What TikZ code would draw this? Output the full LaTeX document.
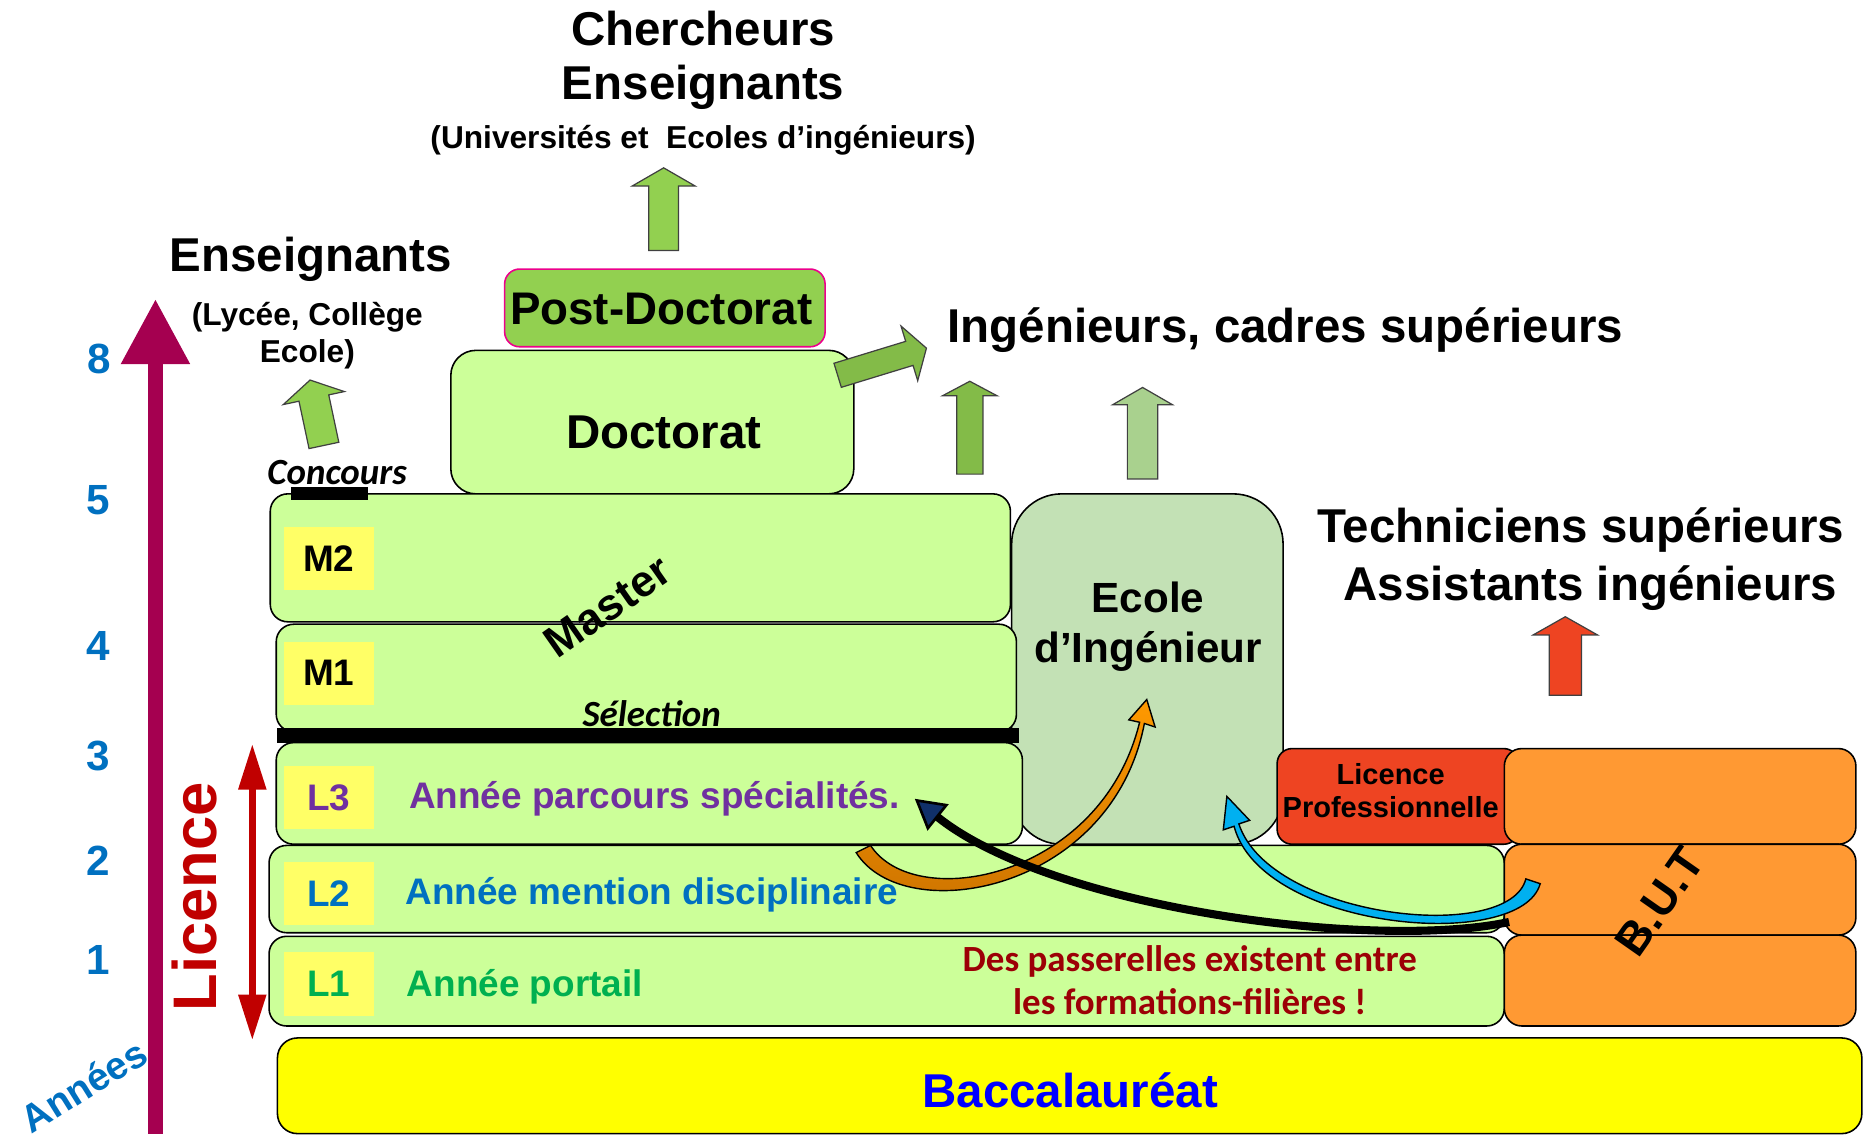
\documentclass[tikz,border=0pt]{standalone}
\usepackage{fontspec}
\setmainfont{Liberation Sans}
\newfontfamily\calfont{Carlito}
\usetikzlibrary{positioning, fit, shapes.arrows, arrows.meta}

\definecolor{lgreen}{HTML}{CCFF99}
\definecolor{pgreen}{HTML}{92D050}
\definecolor{egreen}{HTML}{C3E1B5}
\definecolor{agreen}{HTML}{A9D18E}
\definecolor{lpred}{HTML}{EE4422}
\definecolor{butorange}{HTML}{FF9933}
\definecolor{tagyellow}{HTML}{FFFF66}
\definecolor{bacyellow}{HTML}{FFFF00}
\definecolor{yearpurple}{HTML}{A50050}
\definecolor{licred}{HTML}{C00000}
\definecolor{numblue}{HTML}{0070C0}
\definecolor{l3purple}{HTML}{7030A0}
\definecolor{l1green}{HTML}{00B050}
\definecolor{passred}{HTML}{9C0006}
\definecolor{navy}{HTML}{10306A}
\definecolor{bluearrow}{HTML}{00B0F0}
\definecolor{orangetip}{HTML}{FF9900}
\definecolor{orangetail}{HTML}{C87000}

\newcommand{\setfs}[1]{\fontsize{#1}{1.2\dimexpr#1pt\relax}\selectfont}

\tikzset{
  level/.style={draw=black, line width=0.9pt, fill=lgreen, rounded corners=3.5mm, inner sep=0pt},
  tag/.style={fill=tagyellow, minimum width=51pt, minimum height=36pt, inner sep=0pt, font=\bfseries\setfs{21}},
  num/.style={text=numblue, font=\bfseries\setfs{24}},
  blockarrow/.style={single arrow, draw=black!75, line width=0.7pt, inner xsep=0pt,
    single arrow head indent=0pt, anchor=tail}
}

\begin{document}
\begin{tikzpicture}[x=0.239mm, y=-0.239mm]
  \useasboundingbox (0,0) rectangle (1568,951);

  % annees
  \coordinate (yearsBot) at (130,948);
  \coordinate (yearsTop) at (130,250);
  \draw[
    line width=8.2pt,
    color=yearpurple,
    -{Triangle[width=37pt,length=37pt]}
  ] (yearsBot) -- (yearsTop);
  \node[rotate=32, text=numblue, font=\bfseries\setfs{22}] (annees) at (70,908) {Années};

  \node[num] (year8) at (83,300) {8};
  \node[num] (year5) at (82,418) {5};
  \node[num] (year4) at (82,540) {4};
  \node[num] (year3) at (82,632) {3};
  \node[num] (year2) at (82,720) {2};
  \node[num] (year1) at (82,803) {1};

  % licence
  \node[rotate=90, text=licred, font=\bfseries\setfs{35}] (licence) at (163,750) {Licence};
  \coordinate (licTop) at (211,622);
  \coordinate (licBot) at (211,870);
  \draw[
    line width=4pt,
    color=licred,
    {Triangle[width=15pt,length=26pt]}-{Triangle[width=15pt,length=26pt]}
  ] (licTop) -- (licBot);

  % boxes
  \node[level, fill=egreen, rounded corners=10mm, fit={(846,413) (1073,706)}] (ecole) {};
  \node[align=center, font=\bfseries\fontsize{24}{28.5}\selectfont] (ecoleText) at (960,524) {Ecole\\d’Ingénieur};

  \node[level, rounded corners=5mm, fit={(377,293) (714,413)}] (doc) {};
  \node[font=\bfseries\setfs{27}] (docText) at (555,362) {Doctorat};
  \node[level, draw=magenta, fill=pgreen, rounded corners=3mm, fit={(422,225) (690,290)}] (postdoc) {};
  \node[font=\bfseries\setfs{26}] (postdocText) at (553,258) {Post-Doctorat};

  \node[level, fit={(226,413) (845,520)}] (m2) {};
  \node[level, fit={(231,522) (850,612)}] (m1) {};
  \node[level, fit={(231,621) (855,706)}] (l3) {};
  \node[level, fit={(225,707) (1258,780)}] (l2) {};
  \node[level, fit={(225,783) (1258,858)}] (l1) {};

  \node[level, fill=lpred, rounded corners=3mm, fit={(1068,626) (1270,706)}] (licpro) {};
  \node[align=center, font=\bfseries\fontsize{16.5}{19}\selectfont] (licproText) at (1163,661)
    {Licence\\Professionnelle};
  \node[level, fill=butorange, fit={(1258,626) (1552,706)}] (but3) {};
  \node[level, fill=butorange, fit={(1258,706) (1552,782)}] (but2) {};
  \node[level, fill=butorange, fit={(1258,782) (1552,858)}] (but1) {};
  \node[rotate=55, font=\bfseries\setfs{26}] (butText) at (1388,754) {B.U.T};

  \node[level, fill=bacyellow, rounded corners=4mm, fit={(232,868) (1557,948)}] (bac) {};
  \node[text=blue, font=\bfseries\setfs{27}] (bacText) at (895,912) {Baccalauréat};

  % labels
  \node[tag] (tagM2) at (275,467) {M2};
  \node[tag] (tagM1) at (275,563) {M1};
  \node[tag, text=l3purple] (tagL3) at (275,667) {L3};
  \node[tag, text=numblue] (tagL2) at (275,747) {L2};
  \node[tag, text=l1green] (tagL1) at (275,823) {L1};

  \node[anchor=west, text=l3purple, font=\bfseries\setfs{21}] (txtL3) at (337,668) {Année parcours spécialités.};
  \node[anchor=west, text=numblue, font=\bfseries\setfs{21}] (txtL2) at (334,748) {Année mention disciplinaire};
  \node[anchor=west, text=l1green, font=\bfseries\setfs{21}] (txtL1) at (335,825) {Année portail};
  \node[rotate=35, font=\bfseries\setfs{25}] (master) at (508,507) {Master};

  \node[align=center, text=passred, font=\calfont\bfseries\fontsize{21}{24.5}\selectfont] (passerelles) at (995,820)
    {Des passerelles existent entre\\les formations-filières !};

  % selection, concours
  \fill (232,609) rectangle (852,621);
  \node[font=\calfont\bfseries\itshape\setfs{21}] (selection) at (545,597) {Sélection};
  \fill (243,407) rectangle (308,418);
  \node[font=\calfont\bfseries\itshape\setfs{21}] (concours) at (282,395) {Concours};

  % debouches
  \node[font=\bfseries\setfs{27}] (cherch) at (588,24) {Chercheurs};
  \node[font=\bfseries\setfs{27}] (enseigTop) at (588,73) {Enseignants};
  \node[font=\bfseries\setfs{18}] (univ) at (588,117) {(Universités et\ \ Ecoles d’ingénieurs)};
  \node[font=\bfseries\setfs{27}] (enseigL) at (260,217) {Enseignants};
  \node[font=\bfseries\setfs{18}] (lycee) at (257,265) {(Lycée, Collège};
  \node[font=\bfseries\setfs{18}] (ecoleL) at (257,296) {Ecole)};
  \node[font=\bfseries\setfs{27}] (ingen) at (1075,276) {Ingénieurs, cadres supérieurs};
  \node[font=\bfseries\setfs{27}] (techn) at (1322,443) {Techniciens supérieurs};
  \node[font=\bfseries\setfs{27}] (assist) at (1330,492) {Assistants ingénieurs};

  % passerelles
  \filldraw[
    draw=black,
    line width=0.8pt,
    top color=orangetip,
    bottom color=orangetail
  ] (716,713) .. controls (756,777) and (930,746) .. (957,605) -- (966,608) -- (959,585)
    -- (944,602) -- (953,604) .. controls (921,735) and (765,764) .. (728,707) -- cycle;

  \coordinate (passTail) at (1262,771);
  \coordinate (passTip) at (765,668);
  \draw[
    line width=4.6pt,
    -{Triangle[length=17pt,width=19pt,fill=navy,line width=1.5pt]}
  ] (passTail) .. controls (1150,795) and (880,760) .. (passTip);

  \filldraw[
    draw=black,
    line width=0.8pt,
    fill=bluearrow
  ] (1288,739) .. controls (1272,797) and (1055,778) .. (1032,691) -- (1023,694) -- (1026,666)
    -- (1045,686) -- (1036,689) .. controls (1062,768) and (1262,790) .. (1276,735) -- cycle;

  % fleches
  \node[blockarrow, fill=pgreen, rotate=90, minimum height=47pt, inner ysep=8.1pt,
    single arrow head extend=9.5pt, single arrow tip angle=120] (postUp) at (555,210) {};
  \node[blockarrow, fill=pgreen!90!black, rotate=17, minimum height=52.8pt, inner ysep=6.8pt,
    single arrow head extend=9.1pt, single arrow tip angle=116] (docOut) at (700,314) {};
  \node[blockarrow, fill=pgreen!90!black, rotate=90, minimum height=52.8pt, inner ysep=7.1pt,
    single arrow head extend=8.1pt, single arrow tip angle=124] (masterUp) at (811,397) {};
  \node[blockarrow, fill=agreen, rotate=90, minimum height=52pt, inner ysep=8.3pt,
    single arrow head extend=8.3pt, single arrow tip angle=120] (ecoleUp) at (955.5,401) {};
  \node[blockarrow, fill=lpred, rotate=90, minimum height=44.7pt, inner ysep=8.8pt,
    single arrow head extend=9.1pt, single arrow tip angle=121] (butUp) at (1309,582) {};
  \node[blockarrow, fill=pgreen, rotate=102, minimum height=38pt, inner ysep=8.3pt,
    single arrow head extend=9.1pt, single arrow tip angle=119] (concoursUp) at (271,373) {};
\end{tikzpicture}
\end{document}
